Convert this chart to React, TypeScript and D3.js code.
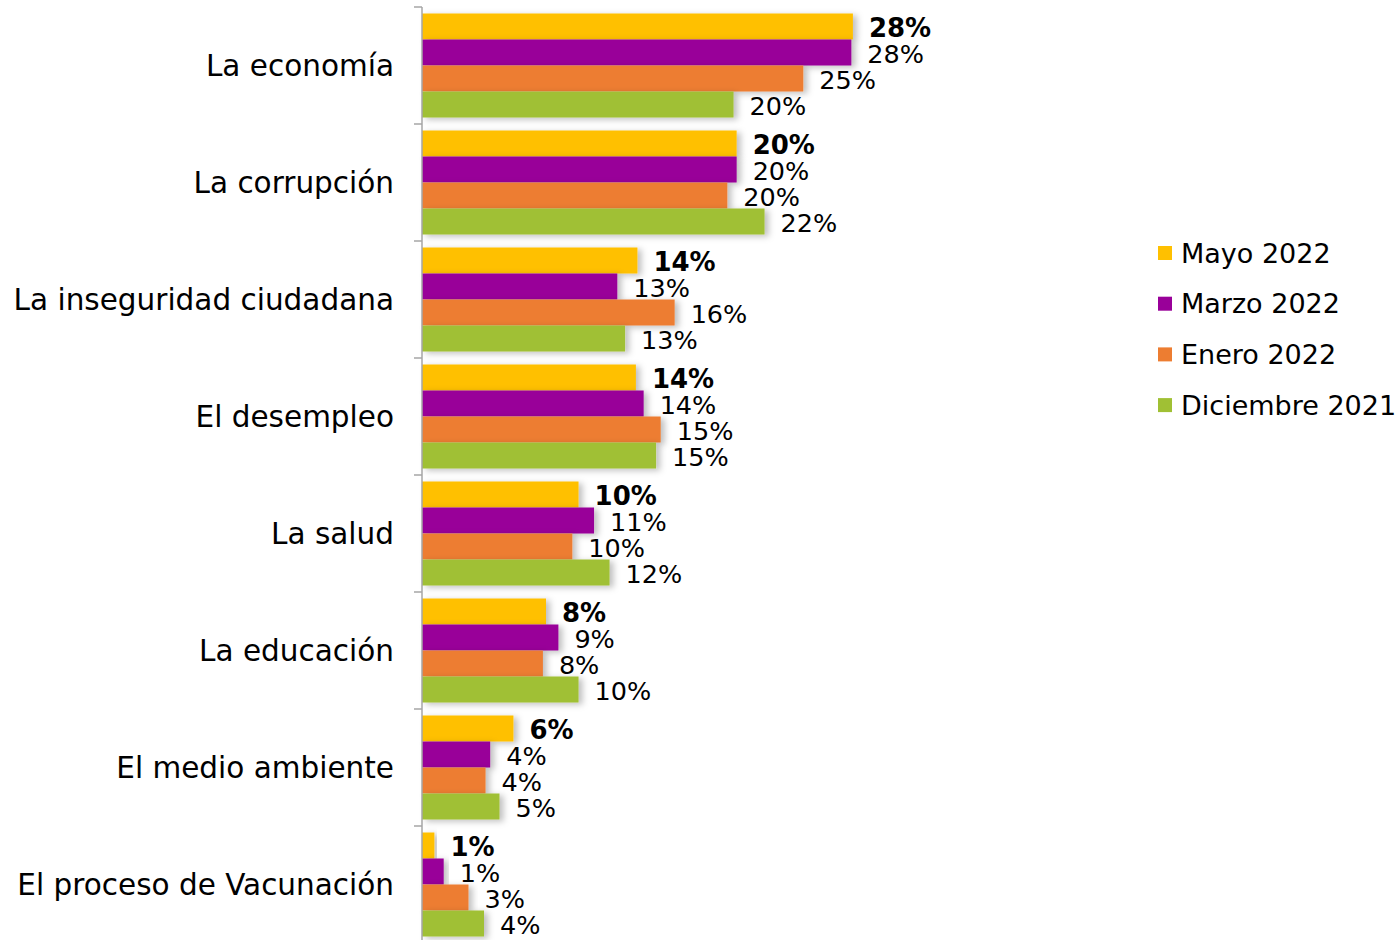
import React from "react";
import * as d3 from "d3";

const categories = [
  "La economía",
  "La corrupción",
  "La inseguridad ciudadana",
  "El desempleo",
  "La salud",
  "La educación",
  "El medio ambiente",
  "El proceso de Vacunación",
];

const seriesNames = ["Mayo 2022", "Marzo 2022", "Enero 2022", "Diciembre 2021"];
const seriesColors = ["#FFC000", "#990099", "#ED7D31", "#A0C034"];

// values in percent; labels are rounded
const mayo2022 = [27.8, 20.3, 13.9, 13.8, 10.1, 8.0, 5.9, 0.8];
const marzo2022 = [27.7, 20.3, 12.6, 14.3, 11.1, 8.8, 4.4, 1.4];
const enero2022 = [24.6, 19.7, 16.3, 15.4, 9.7, 7.8, 4.1, 3.0];
const diciembre2021 = [20.1, 22.1, 13.1, 15.1, 12.1, 10.1, 5.0, 4.0];

const seriesValues = [mayo2022, marzo2022, enero2022, diciembre2021];

const FONT = "'Century Gothic', 'DejaVu Sans', sans-serif";

export default function App() {
  const W = 1400;
  const H = 940;
  const axisX = 422;
  const top = 7;
  const band = 117;

  const y = d3
    .scaleBand<string>()
    .domain(categories)
    .range([top, top + band * categories.length])
    .paddingInner(0)
    .paddingOuter(0);

  const yInner = d3
    .scaleBand<string>()
    .domain(seriesNames)
    .range([0, y.bandwidth()])
    .paddingInner(0)
    .paddingOuter(0.25);

  const x = d3.scaleLinear().domain([0, 30]).range([axisX, axisX + 465]);

  const tickYs = categories.map((c) => y(c)!).concat([top + band * categories.length]);

  return (
    <svg
      width={W}
      height={H}
      style={{ position: "absolute", left: 0, top: 0, background: "#fff" }}
      fontFamily={FONT}
    >
      <defs>
        <filter id="sh" x="-10%" y="-20%" width="130%" height="160%">
          <feDropShadow dx="4" dy="2" stdDeviation="3" floodColor="#000" floodOpacity="0.25" />
        </filter>
      </defs>
      {categories.map((c, ci) => (
        <g key={c}>
          {seriesNames.map((s, si) => {
            const v = seriesValues[si][ci];
            const by = y(c)! + yInner(s)!;
            const bh = yInner.bandwidth();
            return (
              <rect
                key={s}
                x={x(0)}
                y={by}
                width={x(v) - x(0)}
                height={bh}
                fill={seriesColors[si]}
                filter="url(#sh)"
              />
            );
          })}
        </g>
      ))}
      {categories.map((c, ci) => (
        <g key={c + "-lbl"}>
          {seriesNames.map((s, si) => {
            const v = seriesValues[si][ci];
            const by = y(c)! + yInner(s)!;
            const bh = yInner.bandwidth();
            return (
              <text
                key={s}
                x={x(v) + 16}
                y={by + bh / 2 + 1}
                dominantBaseline="central"
                fontSize={si === 0 ? 26 : 25.5}
                fontWeight={si === 0 ? "bold" : "normal"}
                fill="#000"
              >
                {Math.round(v) + "%"}
              </text>
            );
          })}
        </g>
      ))}
      {/* axis */}
      <line x1={axisX} x2={axisX} y1={top} y2={H} stroke="#A6A6A6" strokeWidth={1.5} />
      {tickYs.map((ty, i) => (
        <line key={i} x1={axisX - 8} x2={axisX} y1={ty} y2={ty} stroke="#A6A6A6" strokeWidth={1.5} />
      ))}
      {categories.map((c) => (
        <text
          key={c + "-cat"}
          x={394}
          y={y(c)! + y.bandwidth() / 2}
          textAnchor="end"
          dominantBaseline="central"
          fontSize={29.5}
          fill="#000"
        >
          {c}
        </text>
      ))}
      {/* legend */}
      {seriesNames.map((s, si) => {
        const ly = 253 + si * 50.7;
        return (
          <g key={s + "-leg"}>
            <rect x={1158} y={ly - 7} width={14} height={14} fill={seriesColors[si]} />
            <text x={1181} y={ly} dominantBaseline="central" fontSize={27} fill="#000">
              {s}
            </text>
          </g>
        );
      })}
    </svg>
  );
}
